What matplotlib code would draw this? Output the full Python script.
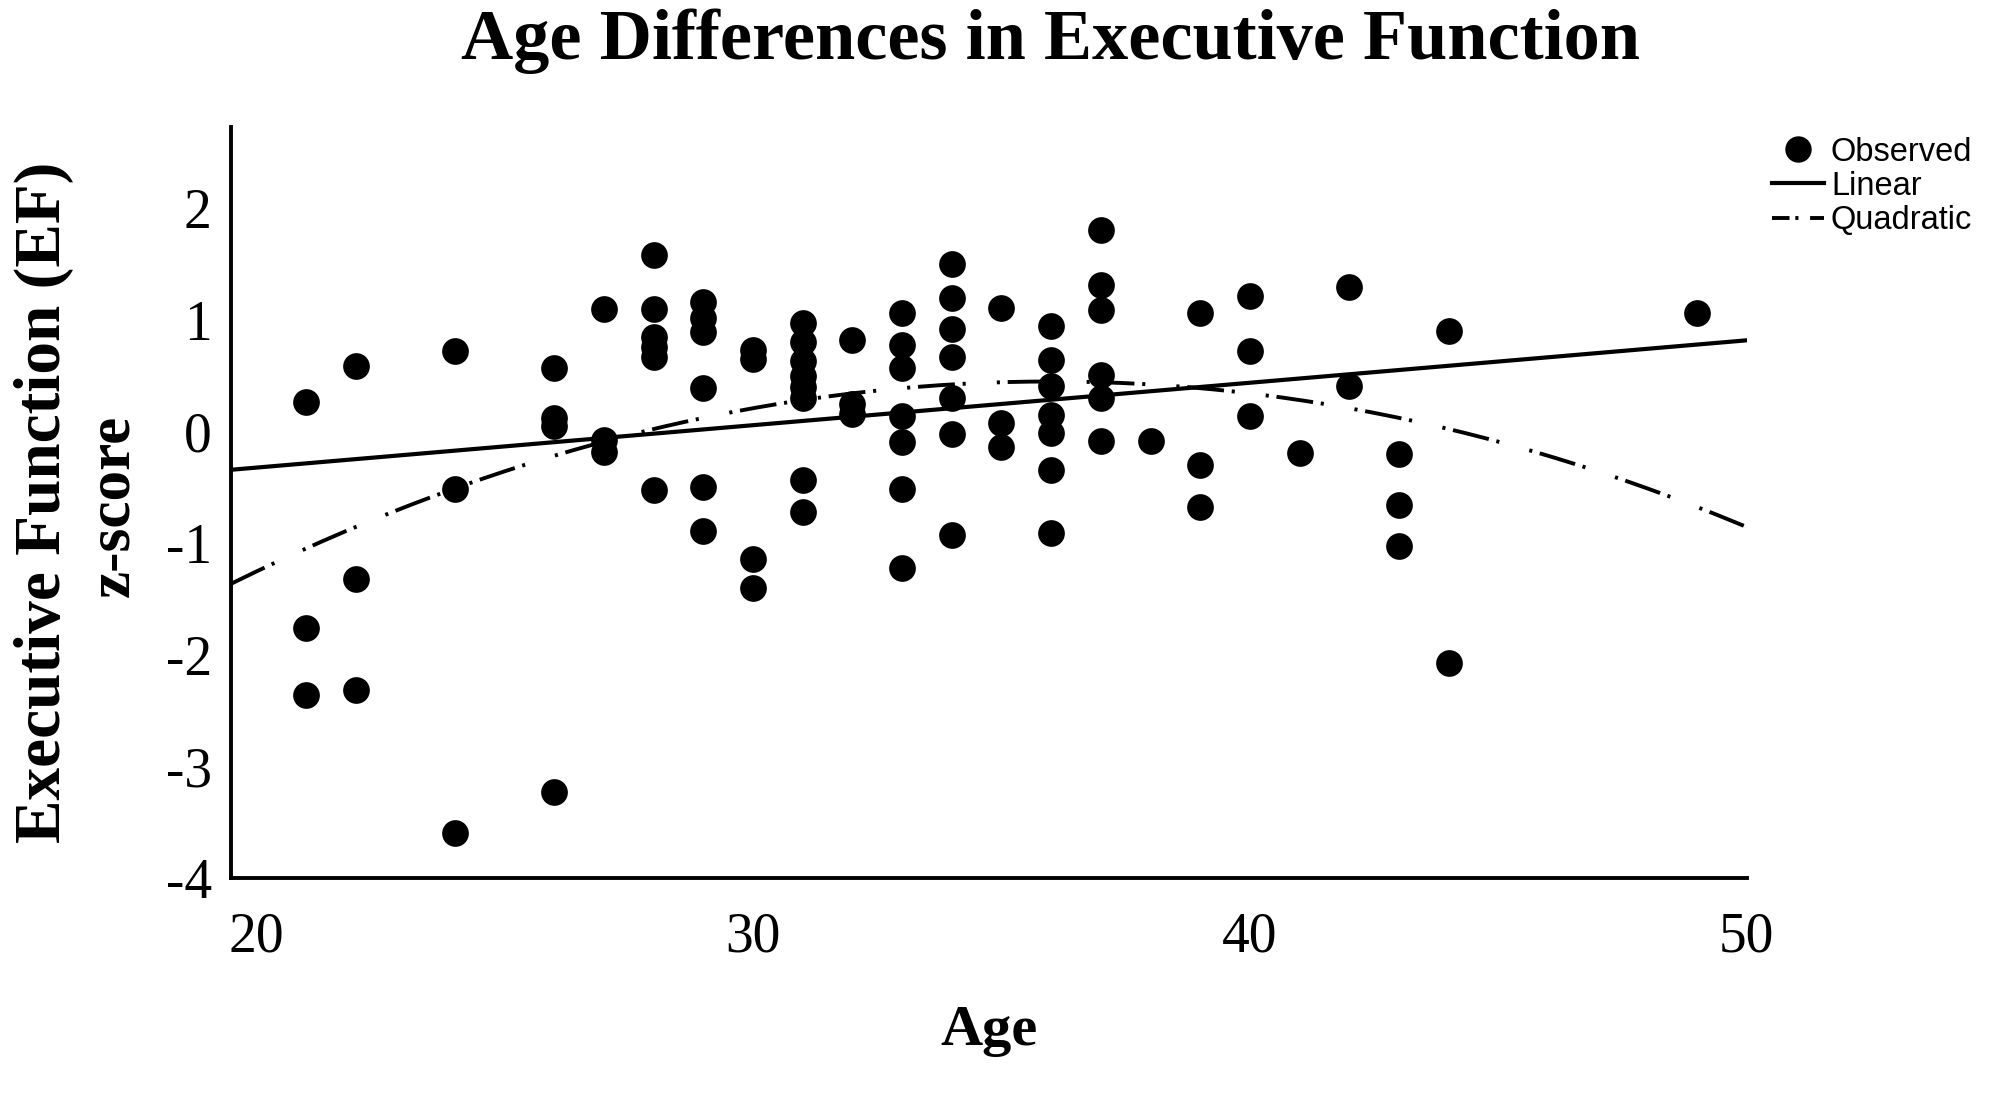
import numpy as np
import matplotlib
matplotlib.use("Agg")
import matplotlib.pyplot as plt
from matplotlib.lines import Line2D

AGES = [21, 21, 21,
        22, 22, 22,
        24, 24, 24,
        26, 26, 26, 26,
        27, 27, 27,
        28, 28, 28, 28, 28, 28,
        29, 29, 29, 29, 29, 29,
        30, 30, 30, 30,
        31, 31, 31, 31, 31, 31, 31, 31,
        32, 32, 32,
        33, 33, 33, 33, 33, 33, 33,
        34, 34, 34, 34, 34, 34, 34,
        35, 35, 35,
        36, 36, 36, 36, 36, 36, 36,
        37, 37, 37, 37, 37, 37,
        38,
        39, 39, 39,
        40, 40, 40,
        41,
        42, 42,
        43, 43, 43,
        44, 44,
        49]
EF_SCORES = [0.27, -1.76, -2.36,
             0.59, -1.32, -2.31,
             0.72, -0.51, -3.59,
             0.57, 0.12, 0.05, -3.23,
             1.10, -0.07, -0.18,
             1.58, 1.10, 0.85, 0.76, 0.67, -0.52,
             1.16, 1.02, 0.89, 0.39, -0.49, -0.89,
             0.73, 0.65, -1.14, -1.40,
             0.97, 0.80, 0.63, 0.50, 0.40, 0.30, -0.43, -0.72,
             0.82, 0.25, 0.16,
             1.06, 0.78, 0.57, 0.14, -0.09, -0.51, -1.22,
             1.50, 1.20, 0.92, 0.67, 0.30, -0.02, -0.92,
             1.11, 0.08, -0.14,
             0.95, 0.64, 0.41, 0.15, -0.01, -0.34, -0.91,
             1.81, 1.31, 1.09, 0.51, 0.30, -0.08,
             -0.08,
             1.06, -0.30, -0.67,
             1.22, 0.72, 0.14,
             -0.19,
             1.30, 0.41,
             -0.20, -0.66, -1.02,
             0.90, -2.07,
             1.06]

# --- Fitted models (polynomial coefficients, highest power first) ---
LINEAR_COEF = [0.038, -1.081]
QUAD_COEF = [-0.00665, 0.4788, -8.168]

X_TICKS = [20, 30, 40, 50]
Y_TICKS = [2, 1, 0, -1, -2, -3, -4]
Y_TICK_LABELS = ["2", "1", "0", "-1", "-2", "-3", "-4"]

SERIF = "Liberation Serif"
SANS = "Liberation Sans"

fig = plt.figure(figsize=(19.94, 10.94), dpi=100)
ax = fig.add_axes([0.116, 0.197, 0.76, 0.687])

ax.scatter(AGES, EF_SCORES, s=370, color="black", zorder=3, linewidths=0)

x_fit = np.linspace(19.5, 50, 200)
ax.plot(x_fit, np.polyval(LINEAR_COEF, x_fit), color="black", lw=3.0, zorder=2)
# dash with a dot on each side, then a long gap
ax.plot(x_fit, np.polyval(QUAD_COEF, x_fit), color="black", lw=2.8,
        dashes=(9.5, 2, 0.8, 8, 0.8, 2), zorder=2)

ax.set_xlim(19.5, 50)
ax.set_ylim(-4, 2.73)
ax.set_xticks(X_TICKS)
ax.set_yticks(Y_TICKS)
ax.set_yticklabels(Y_TICK_LABELS)
ax.tick_params(axis="both", length=0, labelsize=40)
ax.tick_params(axis="x", pad=24)
ax.tick_params(axis="y", pad=14)
for lab in ax.get_xticklabels() + ax.get_yticklabels():
    lab.set_family(SERIF)

for side in ["top", "right"]:
    ax.spines[side].set_visible(False)
for side in ["left", "bottom"]:
    ax.spines[side].set_linewidth(2.8)

fig.text(0.527, 0.962, "Age Differences in Executive Function", ha="center", va="center",
         fontsize=52, fontweight="bold", family=SERIF)
fig.text(0.496, 0.058, "Age", ha="center", va="center",
         fontsize=42, fontweight="bold", family=SERIF)
fig.text(0.022, 0.541, "Executive Function (EF)", ha="center", va="center", rotation=90,
         fontsize=47, fontweight="bold", family=SERIF)
fig.text(0.057, 0.538, "z-score", ha="center", va="center", rotation=90,
         fontsize=44, fontweight="bold", family=SERIF)

handles = [
    Line2D([], [], marker="o", color="black", linestyle="none", markersize=18),
    Line2D([], [], color="black", lw=3.0),
    Line2D([], [], color="black", lw=2.8, dashes=(4.5, 1.5, 0.8, 3)),
]
leg = fig.legend(handles, ["Observed", "Linear", "Quadratic"], loc="upper left",
                 bbox_to_anchor=(0.874, 0.902), frameon=False, handlelength=1.6,
                 handletextpad=0.2, labelspacing=0.1, prop={"family": SANS, "size": 23.5})

fig.savefig("out.png", dpi=100)
